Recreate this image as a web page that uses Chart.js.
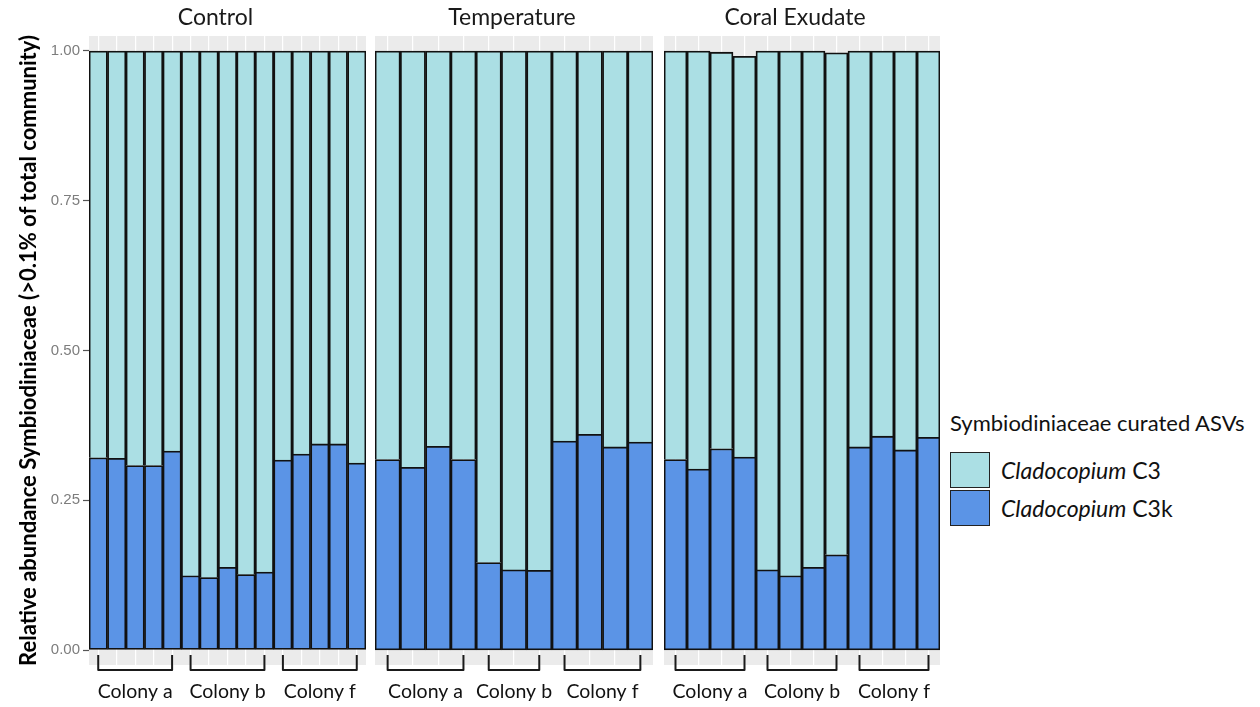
<!DOCTYPE html>
<html>
<head>
<meta charset="utf-8">
<title>Symbiodiniaceae relative abundance</title>
<script src="https://cdn.jsdelivr.net/npm/chart.js@4.4.1/dist/chart.umd.min.js"></script>
<style>
  html, body { margin: 0; padding: 0; background: #fff; }
  #wrap { position: relative; width: 1260px; height: 707px; overflow: hidden; }
  #wrap canvas { position: absolute; top: 0; }
  #legend { position: absolute; left: 950px; top: 408px; font-family: Lato, "Open Sans", sans-serif; color: #111; }
  #legend .lg-title { font-size: 22px; height: 30px; line-height: 30px; white-space: nowrap; margin-bottom: 13px; }
  #legend .lg-item { display: flex; align-items: center; height: 38px; font-size: 23px; white-space: nowrap; }
  #legend .sw { display: inline-block; box-sizing: border-box; width: 40px; height: 36px; border: 1.6px solid #222; margin-right: 11px; }
</style>
</head>
<body>
<div id="wrap">
  <canvas id="panelControl" width="366" height="707" style="left:0px"></canvas>
  <canvas id="panelTemperature" width="278" height="707" style="left:375px"></canvas>
  <canvas id="panelExudate" width="276" height="707" style="left:664px"></canvas>
  <div id="legend"></div>
</div>
<script>
// values (relative abundance per sample)
const yTicks = [0, 0.25, 0.5, 0.75, 1];
const colonies = ['Colony a', 'Colony b', 'Colony f'];
const seriesNames = ['C3', 'C3k'];
const colorC3 = '#abdfe4';
const colorC3k = '#5b94e6';

const controlSizes = [5, 5, 5];
const controlC3k = [0.321, 0.320, 0.308, 0.308, 0.332, 0.124, 0.121, 0.138, 0.126, 0.130, 0.317, 0.327, 0.344, 0.344, 0.312];
const controlC3 = [0.679, 0.680, 0.692, 0.692, 0.668, 0.876, 0.879, 0.862, 0.874, 0.870, 0.683, 0.673, 0.656, 0.656, 0.688];

const temperatureSizes = [4, 3, 4];
const temperatureC3k = [0.318, 0.305, 0.340, 0.318, 0.146, 0.134, 0.133, 0.349, 0.360, 0.339, 0.347];
const temperatureC3 = [0.682, 0.695, 0.660, 0.682, 0.854, 0.866, 0.867, 0.651, 0.640, 0.661, 0.653];

const exudateSizes = [4, 4, 4];
const exudateC3k = [0.318, 0.302, 0.336, 0.322, 0.134, 0.124, 0.138, 0.159, 0.339, 0.357, 0.334, 0.355];
const exudateC3 = [0.682, 0.698, 0.662, 0.669, 0.866, 0.876, 0.862, 0.838, 0.661, 0.643, 0.666, 0.645];

const yAxisTitle = 'Relative abundance Symbiodiniaceae (>0.1% of total community)';
const labelFont = 'Lato, "Open Sans", sans-serif';

function sampleLabels(prefix, sizes) {
    const out = [];
    sizes.forEach((n, g) => {
        for (let i = 1; i <= n; i += 1) out.push(`${prefix}-${colonies[g].slice(-1)}${i}`);
    });
    return out;
}

// grey panel background + facet title + colony brackets
const facetPlugin = {
    id: 'facet',
    beforeDraw(chart) {
        const { ctx, chartArea: a } = chart;
        ctx.save();
        ctx.fillStyle = '#ebebeb';
        ctx.fillRect(a.left, a.top, a.right - a.left, a.bottom - a.top);
        ctx.restore();
    },
    afterDraw(chart, args, opts) {
        const { ctx, chartArea: a } = chart;
        const xs = chart.scales.x;
        ctx.save();
        ctx.fillStyle = '#1a1a1a';
        ctx.font = `23px ${labelFont}`;
        ctx.textAlign = 'center';
        ctx.textBaseline = 'middle';
        ctx.fillText(opts.title, (a.left + a.right) / 2 + (opts.titleShift || 0), 18);

        let start = 0;
        ctx.strokeStyle = '#1a1a1a';
        ctx.lineWidth = 2;
        ctx.lineJoin = 'round';
        opts.sizes.forEach((n, g) => {
            const x0 = xs.getPixelForValue(start);
            const x1 = xs.getPixelForValue(start + n - 1);
            ctx.beginPath();
            ctx.moveTo(x0, 655);
            ctx.lineTo(x0, 670);
            ctx.lineTo(x1, 670);
            ctx.lineTo(x1, 655);
            ctx.stroke();
            ctx.font = `19.5px ${labelFont}`;
            ctx.fillStyle = '#111';
            ctx.fillText(colonies[g], (x0 + x1) / 2, 692);
            start += n;
        });
        ctx.restore();
    }
};

function buildPanel(id, title, sizes, c3k, c3, showAxis, titleShift) {
    const labels = sampleLabels(title, sizes);
    return new Chart(document.getElementById(id), {
        type: 'bar',
        data: {
            labels,
            datasets: [
                {
                    label: seriesNames[1],
                    data: c3k,
                    backgroundColor: colorC3k,
                    borderColor: '#111',
                    borderWidth: 1.8,
                    borderSkipped: false
                },
                {
                    label: seriesNames[0],
                    data: c3,
                    backgroundColor: colorC3,
                    borderColor: '#111',
                    borderWidth: 1.8,
                    borderSkipped: 'start'
                }
            ]
        },
        options: {
            responsive: false,
            animation: false,
            devicePixelRatio: 1,
            barPercentage: 1,
            categoryPercentage: 1,
            layout: { padding: { left: 0, right: 0, top: 36, bottom: 42 } },
            plugins: {
                legend: { display: false },
                tooltip: { enabled: false },
                facet: { title, sizes, titleShift }
            },
            scales: {
                x: {
                    stacked: true,
                    display: true,
                    ticks: { display: false },
                    grid: { color: '#ffffff', lineWidth: 1.2, offset: false, drawTicks: false },
                    border: { display: false },
                    afterFit: (s) => { s.height = 0; }
                },
                y: {
                    stacked: true,
                    display: showAxis,
                    min: -0.025,
                    max: 1.025,
                    afterBuildTicks: (s) => { s.ticks = yTicks.map(v => ({ value: v })); },
                    afterFit: (s) => { if (showAxis) s.width = 89; },
                    ticks: {
                        color: '#7d7d7d',
                        padding: 3,
                        font: { family: '"Liberation Sans", Arial, sans-serif', size: 15 },
                        callback: (v) => Number(v).toFixed(2)
                    },
                    grid: { drawOnChartArea: false, drawTicks: true, tickLength: 6, tickColor: '#555', tickWidth: 1.2 },
                    border: { display: false },
                    title: {
                        display: showAxis,
                        text: yAxisTitle,
                        color: '#000',
                        font: { family: labelFont, size: 22, weight: 'bold' },
                        padding: { top: 16, bottom: 0 }
                    }
                }
            }
        },
        plugins: [facetPlugin]
    });
}

buildPanel('panelControl', 'Control', controlSizes, controlC3k, controlC3, true, -12);
buildPanel('panelTemperature', 'Temperature', temperatureSizes, temperatureC3k, temperatureC3, false, -2);
buildPanel('panelExudate', 'Coral Exudate', exudateSizes, exudateC3k, exudateC3, false, -7);

// legend with italic genus name
const legendEl = document.getElementById('legend');
legendEl.innerHTML = `
    <div class="lg-title">Symbiodiniaceae curated ASVs</div>
    <div class="lg-item"><span class="sw" style="background:${colorC3}"></span><span><i>Cladocopium</i> ${seriesNames[0]}</span></div>
    <div class="lg-item"><span class="sw" style="background:${colorC3k}"></span><span><i>Cladocopium</i> ${seriesNames[1]}</span></div>
`;
</script>
</body>
</html>
